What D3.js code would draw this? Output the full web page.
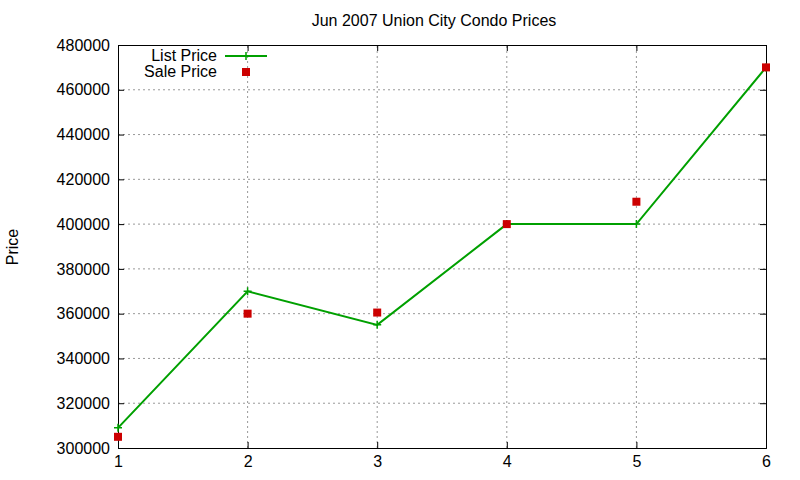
<!DOCTYPE html>
<html><head><meta charset="utf-8">
<script src="https://cdn.jsdelivr.net/npm/d3@7"></script>
<style>body{margin:0;background:#fff}text{font-family:"Liberation Sans",Arial,sans-serif}</style>
</head><body><svg id="chart" width="800" height="480"></svg>
<script>
const months = [1, 2, 3, 4, 5, 6]
const listPrice = [309000, 370000, 355000, 400000, 400000, 470000]
const salePrice = [305000, 360000, 360500, 400000, 410000, 470000]
const yTicks = d3.range(300000, 480001, 20000)

const svg = d3.select('#chart')
const m = { left: 118, right: 34, top: 45, bottom: 32 }
const W = 800, H = 480
const x = d3.scaleLinear().domain([1, 6]).range([m.left, W - m.right])
const y = d3.scaleLinear().domain([300000, 480000]).range([H - m.bottom, m.top])

const g = svg.append('g')
// grid
g.selectAll('.gx').data(months.slice(1, -1)).enter().append('line')
  .attr('x1', d => x(d)).attr('x2', d => x(d)).attr('y1', y(300000)).attr('y2', y(480000))
  .attr('stroke', '#999').attr('stroke-dasharray', '2,3')
g.selectAll('.gy').data(yTicks.slice(1, -1)).enter().append('line')
  .attr('x1', x(1)).attr('x2', x(6)).attr('y1', d => y(d)).attr('y2', d => y(d))
  .attr('stroke', '#999').attr('stroke-dasharray', '2,3')

g.append('g').attr('transform', `translate(0,${y(300000)})`)
  .call(d3.axisBottom(x).tickValues(months).tickSize(-6).tickPadding(8).tickFormat(d3.format('d')))
g.append('g').attr('transform', `translate(0,${y(480000)})`)
  .call(d3.axisTop(x).tickValues(months).tickSize(-6).tickFormat(''))
g.append('g').attr('transform', `translate(${x(1)},0)`)
  .call(d3.axisLeft(y).tickValues(yTicks).tickSize(-6).tickPadding(8).tickFormat(d3.format('d')))
g.append('g').attr('transform', `translate(${x(6)},0)`)
  .call(d3.axisRight(y).tickValues(yTicks).tickSize(-6).tickFormat(''))
g.selectAll('.domain').attr('stroke', '#000')
g.selectAll('.tick text').attr('font-size', 16).attr('fill', '#000').style('font-family', '"Liberation Sans",Arial,sans-serif')

const line = d3.line().x((d, i) => x(months[i])).y(d => y(d))
g.append('path').datum(listPrice).attr('d', line).attr('fill', 'none').attr('stroke', '#00a000').attr('stroke-width', 2)

const plus = (sel, px, py) => sel.append('path')
  .attr('d', `M${px - 4},${py}H${px + 4}M${px},${py - 4}V${py + 4}`)
  .attr('stroke', '#00a000').attr('stroke-width', 1.5)
listPrice.forEach((v, i) => plus(g, x(months[i]), y(v)))

g.selectAll('.sale').data(salePrice).enter().append('rect')
  .attr('x', (d, i) => x(months[i]) - 4).attr('y', d => y(d) - 4)
  .attr('width', 8).attr('height', 8).attr('fill', '#cc0000')

// legend
svg.append('text').attr('x', 217).attr('y', 61).attr('text-anchor', 'end').attr('font-size', 16).text('List Price')
svg.append('line').attr('x1', 225).attr('x2', 267).attr('y1', 56).attr('y2', 56).attr('stroke', '#00a000').attr('stroke-width', 2)
plus(svg, 246, 56)
svg.append('text').attr('x', 217).attr('y', 77).attr('text-anchor', 'end').attr('font-size', 16).text('Sale Price')
svg.append('rect').attr('x', 242).attr('y', 68).attr('width', 8).attr('height', 8).attr('fill', '#cc0000')

svg.append('text').attr('x', 434).attr('y', 26).attr('text-anchor', 'middle').attr('font-size', 16).text('Jun 2007 Union City Condo Prices')
svg.append('text').attr('transform', 'translate(18,247) rotate(-90)').attr('text-anchor', 'middle').attr('font-size', 16).text('Price')
</script></body></html>
